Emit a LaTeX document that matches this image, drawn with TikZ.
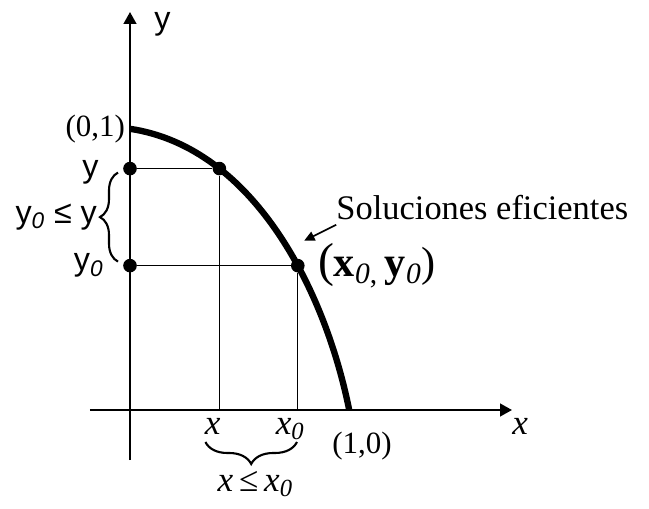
\documentclass[tikz,border=0pt]{standalone}
\usepackage{fontspec}
\setmainfont{Liberation Serif}
\setsansfont{Liberation Sans}
\usetikzlibrary{arrows.meta,positioning,calc,decorations.pathreplacing}

\begin{document}
\begin{tikzpicture}[
	axis/.style={
		draw,
		line width=1.4pt,
		-{Triangle[length=3mm,width=3.2mm]}
	},
	guide/.style={
		draw,
		line width=0.6pt
	},
	frontier/.style={
		draw,
		line width=4.5pt
	},
	dot/.style={
		circle,
		fill=black,
		inner sep=0pt,
		minimum size=0.34cm
	},
	brace/.style={
		draw,
		line width=1.5pt,
		decorate,
		decoration={brace,amplitude=#1}
	},
	lbl/.style={
		inner sep=0pt,
		font=\fontsize{22}{26}\selectfont
	},
	mathlbl/.style={
		inner sep=0pt,
		font=\fontsize{25}{29}\selectfont
	},
	sanslbl/.style={
		inner sep=0pt,
		font=\sffamily\fontsize{23}{27}\selectfont
	},
	pointer/.style={
		draw,
		line width=1.2pt,
		-{Triangle[length=2.6mm,width=2.4mm]}
	}
	]
	
	% Frame
	\useasboundingbox (-3.25,-2.45) rectangle (12.975,10.25);
	
	% Axes
	\coordinate (O) at (0,0);
	\coordinate (xstart) at (-1,0);
	\coordinate (xtip) at (9.55,0);
	\coordinate (ystart) at (0,-1.25);
	\coordinate (ytip) at (0,9.95);
	\path[axis] (xstart) -- (xtip);
	\path[axis] (ystart) -- (ytip);
	
	% Efficient frontier
	\coordinate (top) at (0,7.03);
	\coordinate (bottom) at (5.48,0);
	\path[frontier] (top) .. controls (3.12,6.56) and (4.89,2.94) .. (bottom)
		coordinate[pos=0.27] (p)
		coordinate[pos=0.55] (aim)
		coordinate[pos=0.6] (q);
	\coordinate (pfoot) at (p |- O);
	\coordinate (qfoot) at (q |- O);
	
	% Points
	\node[dot] (ydot) at (O |- p) {};
	\node[dot] (y0dot) at (O |- q) {};
	\node[dot] (pdot) at (p) {};
	\node[dot] (qdot) at (q) {};
	
	% Guide lines
	\path[guide] (ydot) -- (pdot) -- (pfoot);
	\path[guide] (y0dot) -- (qdot) -- (qfoot);
	
	% Axis labels
	\node[sanslbl,right=0.6cm of ytip,yshift=-0.3cm] (ylabel) {y};
	\node[mathlbl,below right=0.2cm and 0cm of xtip] (xlabel) {\textit{x}};
	\node[lbl,left=0.12cm of top] (toplabel) {(0,1)};
	\node[lbl,below=0.55cm of bottom,xshift=0.32cm] (bottomlabel) {(1,0)};
	
	% Left side
	\node[sanslbl,left=0.6cm of ydot,yshift=-0.1cm] (ylbl) {y};
	\node[sanslbl,left=0.48cm of y0dot] (y0lbl) {y\textsubscript{\textit{0}}};
	\coordinate (ybr1) at ($(y0dot)+(-0.3,0.1)$);
	\coordinate (ybr2) at ($(ydot)+(-0.3,-0.1)$);
	\coordinate (ybrmid) at ($(ybr1)!0.5!(ybr2)$);
	\draw[brace=0.45cm] (ybr1) -- (ybr2);
	\node[sanslbl,left=0.52cm of ybrmid] (ylelbl) {y\textsubscript{\textit{0}} ≤ y};
	
	% Bottom side
	\node[mathlbl,below=0.2cm of pfoot,xshift=-0.17cm] (xlbl) {\textit{x}};
	\node[mathlbl,below=0.2cm of qfoot,xshift=-0.19cm] (x0lbl) {\textit{x}\textsubscript{\textit{0}}};
	\coordinate (xbr1) at ($(qfoot)+(-0.02,-0.8)$);
	\coordinate (xbr2) at ($(pfoot)+(-0.35,-0.8)$);
	\coordinate (xbrtip) at ($(xbr1)!0.5!(xbr2)+(0,-0.55)$);
	\draw[brace=0.55cm] (xbr1) -- (xbr2);
	\node[mathlbl,below=0.18cm of xbrtip,xshift=0.1cm] (xlelbl) {\textit{x}\,≤\,\textit{x}\textsubscript{\textit{0}}};
	
	% Frontier labels
	\node[lbl,font=\fontsize{24.5}{28}\selectfont,above right=1.14cm and 0.96cm of q] (sol) {Soluciones eficientes};
	\path[pointer,shorten >=0.45cm] ([yshift=-0.12cm]sol.south west) -- (aim);
	\node[lbl,font=\fontsize{34}{38}\selectfont,right=0.5cm of q] (qlbl) {(\fontsize{30}{34}\selectfont\textbf{x}\textsubscript{\textit{0},}\,\textbf{y}\textsubscript{\textit{0}})};
	
\end{tikzpicture}
\end{document}
